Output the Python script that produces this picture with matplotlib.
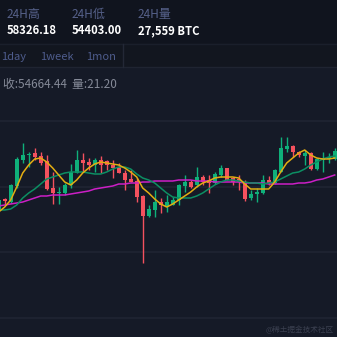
import matplotlib
matplotlib.use("Agg")
import matplotlib.pyplot as plt
from matplotlib.patches import Rectangle
from matplotlib.lines import Line2D
import numpy as np

plt.rcParams['font.family'] = ['Noto Sans CJK SC', 'DejaVu Sans']

# ---- data ----
opens = [55800, 56020, 55960, 56280, 56800, 56900, 56940, 56880, 56780, 56240,
         56140, 56140, 56300, 56540, 56800, 56760, 56700, 56800, 56780, 56700,
         56660, 56540, 56420, 56380, 56080, 55680, 55800, 55960, 55860, 55900,
         56000, 56280, 56360, 56300, 56460, 56400, 56340, 56500, 56640, 56440,
         56420, 56360, 56040, 56130, 56140, 56400, 56340, 56560, 57020, 57080,
         56960, 56880, 56940, 56620, 56800, 56820, 56820]
closes = [56000, 55980, 56300, 56820, 56900, 56920, 56860, 56740, 56220, 56140,
          56160, 56300, 56560, 56800, 56740, 56700, 56800, 56700, 56700, 56640,
          56540, 56400, 56360, 56060, 55680, 55820, 55960, 55900, 55960, 56000,
          56300, 56360, 56260, 56460, 56360, 56340, 56520, 56640, 56400, 56360,
          56360, 56020, 56120, 56140, 56400, 56340, 56600, 57040, 57080, 56960,
          56900, 56940, 56620, 56820, 56840, 56860, 56980]
highs = [56040, 56040, 56320, 56860, 57140, 56960, 57040, 56960, 56900, 56560,
         56260, 56340, 56720, 57000, 56940, 56840, 56840, 56880, 56800, 56800,
         56740, 56600, 56600, 56440, 56100, 55900, 56200, 56040, 56100, 56060,
         56320, 56500, 56400, 56660, 56500, 56500, 56560, 56700, 56640, 56460,
         56500, 56400, 56200, 56240, 56500, 56480, 56620, 57260, 57260, 57100,
         56980, 57000, 56960, 56840, 56960, 56940, 57040]
lows = [55760, 55900, 55940, 56240, 56740, 56660, 56800, 56700, 56200, 55920,
        55920, 56100, 56240, 56540, 56560, 56600, 56560, 56540, 56600, 56440,
        56540, 56200, 56360, 55960, 54740, 55660, 55660, 55740, 55760, 55900,
        55900, 56160, 56240, 56260, 56300, 56140, 56320, 56460, 56400, 56300,
        56200, 55980, 56000, 55960, 56120, 56300, 56320, 56560, 56960, 56860,
        56860, 56700, 56600, 56600, 56560, 56740, 56800]
ma5 = [55760, 55860, 56000, 56260, 56540, 56700, 56820, 56840, 56760, 56640,
       56500, 56360, 56300, 56400, 56540, 56640, 56720, 56760, 56740, 56720,
       56700, 56640, 56560, 56460, 56240, 56140, 56020, 55920, 55860, 55920,
       56000, 56080, 56160, 56260, 56340, 56380, 56440, 56460, 56460, 56460,
       56440, 56320, 56220, 56220, 56220, 56220, 56360, 56560, 56740, 56840,
       56940, 57000, 56900, 56840, 56820, 56820, 56840]
ma10 = [55800, 55800, 55820, 55900, 56040, 56140, 56220, 56320, 56420, 56460,
        56500, 56540, 56560, 56560, 56560, 56540, 56520, 56520, 56560, 56620,
        56660, 56660, 56620, 56520, 56440, 56400, 56340, 56240, 56140, 56060,
        56040, 56040, 56040, 56080, 56140, 56220, 56300, 56360, 56400, 56400,
        56380, 56360, 56340, 56340, 56320, 56340, 56360, 56420, 56480, 56540,
        56560, 56620, 56700, 56760, 56820, 56860, 56880]
ma30 = [55880, 55900, 55920, 55940, 55960, 56000, 56040, 56080, 56080, 56100,
        56100, 56100, 56120, 56140, 56160, 56180, 56220, 56240, 56260, 56280,
        56320, 56320, 56340, 56340, 56360, 56360, 56380, 56380, 56380, 56380,
        56400, 56400, 56400, 56380, 56380, 56380, 56360, 56360, 56360, 56360,
        56360, 56340, 56340, 56340, 56340, 56320, 56320, 56320, 56320, 56320,
        56340, 56340, 56360, 56400, 56420, 56460, 56500]
grid_levels = [57580, 56260, 54960, 53640]

header_labels = ["24H高", "24H低", "24H量"]
header_values = ["58326.18", "54403.00", "27,559 BTC"]
tab_labels = ["1day", "1week", "1mon"]
info_text = "收:54664.44  量:21.20"
watermark = "@稀土掘金技术社区"

# ---- style ----
BG = "#151a27"
TOP_BG = "#10141e"
TAB_BG = "#12161f"
LINE = "#1f2433"
UP = "#0fb07a"
DOWN = "#f4515e"

W = H = 337
fig = plt.figure(figsize=(3.37, 3.37), dpi=100, facecolor=BG)
ax = fig.add_axes([0, 0, 1, 1])
ax.set_facecolor(BG)
ax.set_xlim(0.217, 56.383)
ax.set_ylim(53260, 60000)
ax.axis("off")

for g in grid_levels:
    ax.axhline(g, color=LINE, lw=1.2, zorder=1)

x = np.arange(len(opens))
o = np.array(opens); c = np.array(closes)
hi = np.array(highs); lo = np.array(lows)
up = c >= o
colors = np.where(up, UP, DOWN)
ax.vlines(x, lo, hi, colors=colors, lw=1.0, zorder=2)
bottom = np.minimum(o, c)
height = np.maximum(np.abs(c - o), 22)
ax.bar(x, height, bottom=bottom, width=0.66, color=colors, zorder=3, linewidth=0)

ax.plot(x, ma30, color="#cc1fc6", lw=1.1, zorder=4)
ax.plot(x, ma10, color="#0c8f63", lw=1.1, zorder=5)
ax.plot(x, ma5, color="#e3ad12", lw=1.1, zorder=6)

def fx(px):
    return px / W

def fy(py):
    return 1 - py / H

# header panels
fig.add_artist(Rectangle((0, fy(43)), 1, 43 / H, transform=fig.transFigure,
                         facecolor=TOP_BG, edgecolor="none", zorder=10))
fig.add_artist(Rectangle((0, fy(67)), 1, 24 / H, transform=fig.transFigure,
                         facecolor=TAB_BG, edgecolor="none", zorder=10))
fig.add_artist(Line2D([0, 1], [fy(43.5), fy(43.5)], transform=fig.transFigure,
                      color="#1a1f2b", lw=1, zorder=11))
fig.add_artist(Line2D([0, 1], [fy(67), fy(67)], transform=fig.transFigure,
                      color="#1f2431", lw=1, zorder=11))
fig.add_artist(Line2D([fx(123), fx(123)], [fy(44), fy(67)], transform=fig.transFigure,
                      color="#232836", lw=1, zorder=11))

hx = [7, 72, 138]
for px, lab, val in zip(hx, header_labels, header_values):
    fig.text(fx(px), fy(14.5), lab, color="#56618a", fontsize=8.6, va="center",
             ha="left", zorder=12)
    fig.text(fx(px), fy(31), val, color="#ffffff", fontsize=8.1, va="center",
             ha="left", fontweight="bold", zorder=12)

tx = [1, 40, 86]
for px, lab in zip(tx, tab_labels):
    fig.text(fx(px), fy(56.5), lab, color="#4e5c8c", fontsize=8, va="center",
             ha="left", zorder=12)

fig.text(fx(3), fy(85), info_text, color="#858a98", fontsize=8.5, va="center",
         ha="left", zorder=12)
fig.text(fx(334), fy(330), watermark, color="#3b4050", fontsize=5.5, va="center",
         ha="right", zorder=12)

fig.savefig("out.png", dpi=100, facecolor=BG)
